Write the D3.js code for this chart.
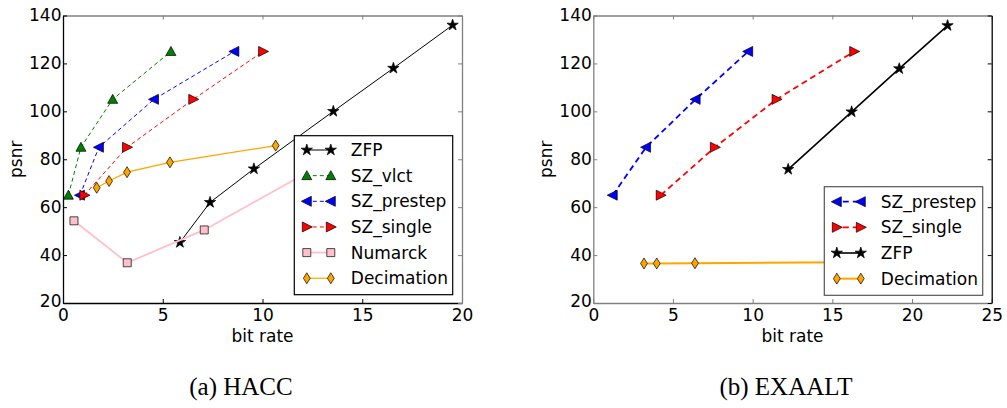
<!DOCTYPE html>
<html>
<head>
<meta charset="utf-8">
<script src="https://cdn.jsdelivr.net/npm/d3@7"></script>
<style>
  body { margin: 0; background: #fff; }
  svg { display: block; }
  text { font-family: "DejaVu Sans", sans-serif; }
</style>
</head>
<body>
<div id="chart"></div>
<script>
const width = 1007;
const height = 408;

// ---- data (bit rate, psnr) ----
const haccZfp       = [[5.86, 45.3], [7.37, 62], [9.57, 76], [13.55, 100], [16.56, 118], [19.53, 136]];
const haccVlct      = [[0.27, 65], [0.9, 85], [2.49, 105], [5.41, 125]];
const haccPrestep   = [[0.85, 65], [1.8, 85], [4.56, 105], [8.59, 125]];
const haccSingle    = [[1.07, 65], [3.21, 85], [6.53, 105], [10.03, 125]];
const haccNumarck   = [[0.55, 54.3], [3.22, 36.8], [7.08, 50.5], [13.0, 78]];
const haccDecim     = [[1.69, 68.1], [2.31, 70.9], [3.21, 74.6], [5.36, 78.7], [10.66, 85.7]];

const exaPrestep    = [[1.22, 65], [3.31, 85], [6.42, 105], [9.72, 125]];
const exaSingle     = [[4.23, 65], [7.63, 85], [11.5, 105], [16.37, 125]];
const exaZfp        = [[12.23, 75.8], [16.21, 99.8], [19.2, 117.8], [22.23, 135.8]];
const exaDecim      = [[3.18, 36.5], [3.98, 36.5], [6.38, 36.6], [16.0, 37.0]];

const yTicks = [20, 40, 60, 80, 100, 120, 140];
const haccXTicks = [0, 5, 10, 15, 20];
const exaXTicks = [0, 5, 10, 15, 20, 25];

const svg = d3.select("#chart").append("svg")
  .attr("width", width)
  .attr("height", height);

svg.append("rect").attr("width", width).attr("height", height).attr("fill", "#fff");

// marker shapes (centered at 0,0)
const markers = {
  star: d3.symbol().type(d3.symbolStar).size(40)(),
  up: "M0,-5L5,4L-5,4Z",
  left: "M-5.5,0L4.5,-5L4.5,5Z",
  right: "M5.5,0L-4.5,-5L-4.5,5Z",
  square: "M-4,-4H4V4H-4Z",
  diamond: "M0,-5.5L3.4,0L0,5.5L-3.4,0Z"
};

function drawPanel(cfg) {
  const x = d3.scaleLinear().domain(cfg.xDomain).range([cfg.left, cfg.right]);
  const y = d3.scaleLinear().domain([20, 140]).range([cfg.bottom, cfg.top]);
  const g = svg.append("g");

  const clipId = "clip" + cfg.id;
  svg.append("clipPath").attr("id", clipId)
    .append("rect")
    .attr("x", cfg.left).attr("y", cfg.top)
    .attr("width", cfg.right - cfg.left).attr("height", cfg.bottom - cfg.top);

  const line = d3.line().x(d => x(d[0])).y(d => y(d[1]));

  cfg.series.forEach(s => {
    g.append("path")
      .datum(s.data)
      .attr("clip-path", `url(#${clipId})`)
      .attr("d", line)
      .attr("fill", "none")
      .attr("stroke", s.color)
      .attr("stroke-width", s.lw)
      .attr("stroke-dasharray", s.dash ? cfg.dash : null);

    g.selectAll(null)
      .data(s.data)
      .join("path")
      .attr("d", markers[s.marker])
      .attr("transform", d => `translate(${x(d[0])},${y(d[1])})`)
      .attr("fill", s.marker === "star" ? "#000" : s.color)
      .attr("stroke", "#000")
      .attr("stroke-width", 0.7);
  });

  // axes: ticks point inward on all four sides
  const axB = g.append("g")
    .attr("transform", `translate(0,${cfg.bottom})`)
    .call(d3.axisBottom(x).tickValues(cfg.xTicks).tickSize(-4).tickSizeOuter(0).tickPadding(6));
  const axT = g.append("g")
    .attr("transform", `translate(0,${cfg.top})`)
    .call(d3.axisTop(x).tickValues(cfg.xTicks).tickSize(-4).tickSizeOuter(0).tickFormat(""));
  const axL = g.append("g")
    .attr("transform", `translate(${cfg.left},0)`)
    .call(d3.axisLeft(y).tickValues(yTicks).tickSize(-4).tickSizeOuter(0).tickPadding(1.5));
  const axR = g.append("g")
    .attr("transform", `translate(${cfg.right},0)`)
    .call(d3.axisRight(y).tickValues(yTicks).tickSize(-4).tickSizeOuter(0).tickFormat(""));

  [[axB, cfg.spine.bottom], [axT, cfg.spine.top], [axL, cfg.spine.left], [axR, cfg.spine.right]]
    .forEach(([a, c]) => {
      a.select(".domain").attr("stroke", c).attr("stroke-width", 1.3);
      a.selectAll(".tick line").attr("stroke", c).attr("stroke-width", 1);
      a.selectAll("text").attr("font-size", 17).attr("fill", "#000")
        .attr("font-family", "DejaVu Sans, sans-serif");
    });
  // lift the lowest y label a touch so it clears the "0" below it
  axL.selectAll(".tick text").filter(d => d === 20).attr("dy", "0.22em");

  g.append("text")
    .attr("x", (cfg.left + cfg.right) / 2)
    .attr("y", 341.5)
    .attr("text-anchor", "middle")
    .attr("font-size", 17)
    .text("bit rate");

  g.append("text")
    .attr("transform", `translate(${cfg.left - 41.5},${(cfg.top + cfg.bottom) / 2}) rotate(-90)`)
    .attr("text-anchor", "middle")
    .attr("font-size", 17)
    .text("psnr");

  // legend
  const L = cfg.legend;
  const lg = g.append("g");
  lg.append("rect")
    .attr("x", L.x).attr("y", L.y)
    .attr("width", L.w).attr("height", L.h)
    .attr("fill", "#fff")
    .attr("stroke", L.border)
    .attr("stroke-width", 1.2);

  cfg.series.forEach((s, i) => {
    const cy = L.first + i * L.step;
    const x1 = L.x + 12.5, x2 = L.x + 36.5;
    lg.append("line")
      .attr("x1", x1).attr("x2", x2).attr("y1", cy).attr("y2", cy)
      .attr("stroke", s.color)
      .attr("stroke-width", s.lw)
      .attr("stroke-dasharray", s.dash ? cfg.dash : null)
      .attr("stroke-dashoffset", s.dash ? -6 : null);
    [x1, x2].forEach(mx => {
      lg.append("path")
        .attr("d", markers[s.marker])
        .attr("transform", `translate(${mx},${cy})`)
        .attr("fill", s.marker === "star" ? "#000" : s.color)
        .attr("stroke", "#000")
        .attr("stroke-width", 0.7);
    });
    lg.append("text")
      .attr("x", L.x + 56.5)
      .attr("y", cy)
      .attr("dy", "0.35em")
      .attr("font-size", 17)
      .text(s.name);
  });

  g.append("text")
    .attr("x", cfg.caption.x)
    .attr("y", cfg.caption.y)
    .attr("text-anchor", "middle")
    .attr("font-size", 25)
    .style("font-family", "'Liberation Serif', serif")
    .text(cfg.caption.text);
}

drawPanel({
  id: "a",
  left: 63, right: 462, top: 15.5, bottom: 303,
  xDomain: [0, 20], xTicks: haccXTicks,
  dash: "4,3",
  spine: { left: "#000", bottom: "#000", top: "#808080", right: "#808080" },
  series: [
    { name: "ZFP", data: haccZfp, color: "#000", marker: "star", lw: 1 },
    { name: "SZ_vlct", data: haccVlct, color: "green", marker: "up", lw: 1, dash: true },
    { name: "SZ_prestep", data: haccPrestep, color: "#0000ff", marker: "left", lw: 1, dash: true },
    { name: "SZ_single", data: haccSingle, color: "#ff0000", marker: "right", lw: 1, dash: true },
    { name: "Numarck", data: haccNumarck, color: "#ffc0cb", marker: "square", lw: 1.8 },
    { name: "Decimation", data: haccDecim, color: "#ffa500", marker: "diamond", lw: 1.2 }
  ],
  legend: { x: 294.3, y: 135.7, w: 158.4, h: 159, first: 150, step: 25.65, border: "#000" },
  caption: { x: 241, y: 395, text: "(a) HACC" }
});

drawPanel({
  id: "b",
  left: 593.3, right: 991.7, top: 15.5, bottom: 303,
  xDomain: [0, 25], xTicks: exaXTicks,
  dash: "6,4",
  spine: { left: "#808080", bottom: "#808080", top: "#808080", right: "#000" },
  series: [
    { name: "SZ_prestep", data: exaPrestep, color: "#0000ff", marker: "left", lw: 1.8, dash: true },
    { name: "SZ_single", data: exaSingle, color: "#ff0000", marker: "right", lw: 1.8, dash: true },
    { name: "ZFP", data: exaZfp, color: "#000", marker: "star", lw: 1.6 },
    { name: "Decimation", data: exaDecim, color: "#ffa500", marker: "diamond", lw: 2 }
  ],
  legend: { x: 824.3, y: 186.7, w: 158.4, h: 108.6, first: 201.7, step: 25.65, border: "#555" },
  caption: { x: 786, y: 395, text: "(b) EXAALT" }
});
</script>
</body>
</html>
